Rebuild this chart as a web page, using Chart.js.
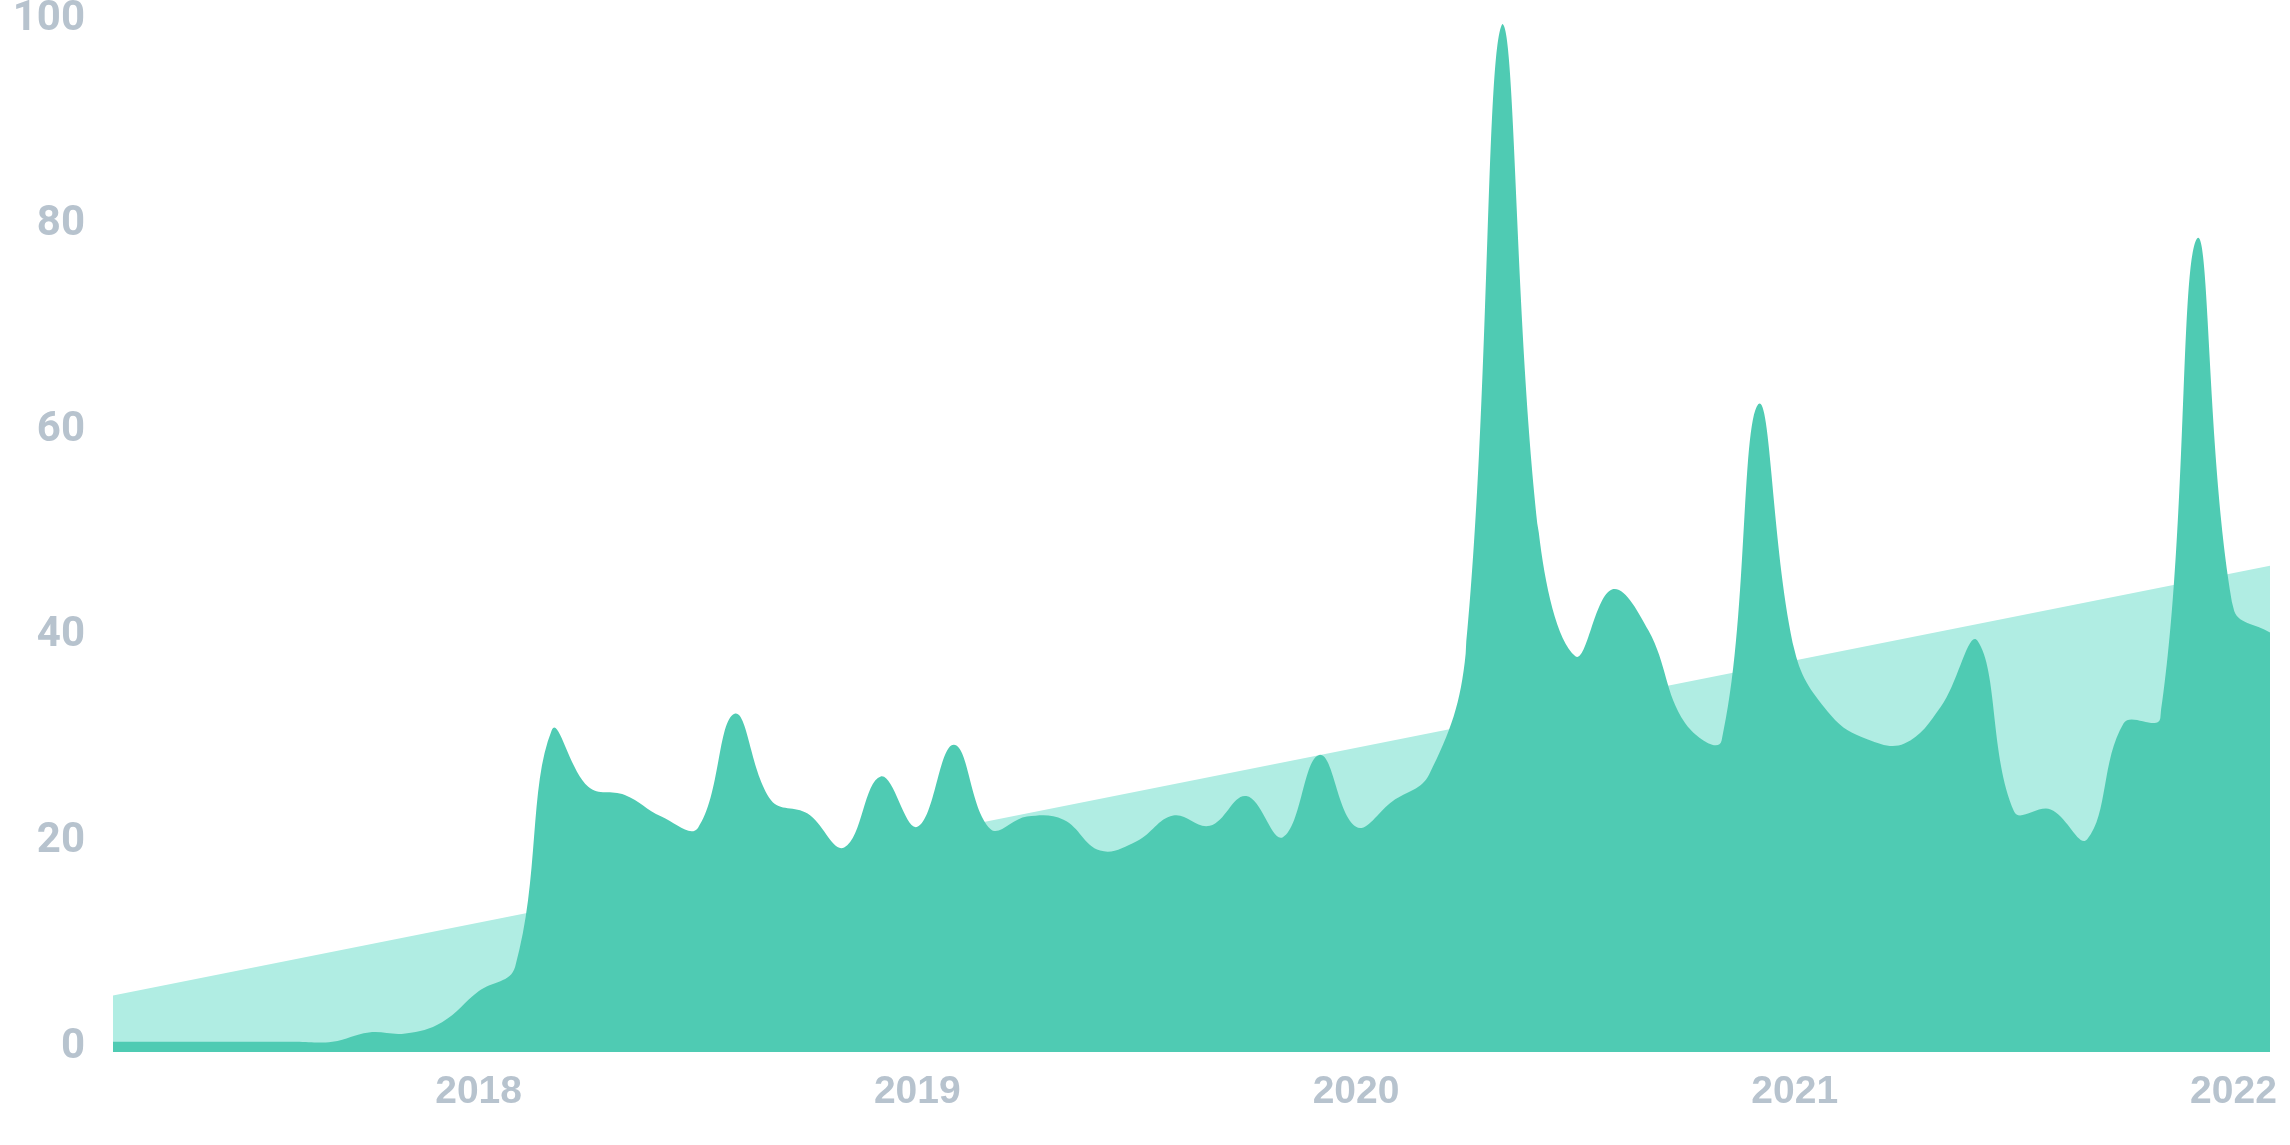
<!DOCTYPE html>
<html lang="en">
<head>
    <meta charset="UTF-8">
    <title>Interest over time</title>
    <script src="https://cdn.jsdelivr.net/npm/chart.js"></script>
    <style>
        body {
            margin: 0;
            padding: 0;
            background-color: #fff;
        }
        #chart {
            display: block;
        }
    </style>
</head>
<body>
    <canvas id="chart" width="2290" height="1145"></canvas>

    <script>
        // monthly points, Mar 2017 .. Feb 2022
        const months = [
            '2017-03', '2017-04', '2017-05', '2017-06', '2017-07', '2017-08', '2017-09', '2017-10', '2017-11', '2017-12',
            '2018-01', '2018-02', '2018-03', '2018-04', '2018-05', '2018-06', '2018-07', '2018-08', '2018-09', '2018-10', '2018-11', '2018-12',
            '2019-01', '2019-02', '2019-03', '2019-04', '2019-05', '2019-06', '2019-07', '2019-08', '2019-09', '2019-10', '2019-11', '2019-12',
            '2020-01', '2020-02', '2020-03', '2020-04', '2020-05', '2020-06', '2020-07', '2020-08', '2020-09', '2020-10', '2020-11', '2020-12',
            '2021-01', '2021-02', '2021-03', '2021-04', '2021-05', '2021-06', '2021-07', '2021-08', '2021-09', '2021-10', '2021-11', '2021-12',
            '2022-01', '2022-02'
        ];
        const interest = [
            1, 1, 1, 1, 1, 1, 1, 1.9, 1.8, 2.9,
            5.9, 8.3, 31.3, 25.8, 25.0, 22.9, 21.8, 32.9, 24.5, 23.2, 19.9, 26.8,
            21.9, 29.9, 21.7, 22.9, 22.6, 19.6, 20.5, 23.0, 22.0, 24.9, 20.9, 28.9,
            21.9, 24.4, 27.0, 38.8, 100, 50.5, 38.5, 45.0, 41.0, 32.0, 30.3, 63.0,
            39.0, 32.7, 30.4, 30.0, 33.6, 40.0, 23.4, 23.6, 20.7, 32.0, 32.5, 79.1,
            43.2, 40.8
        ];
        // trend line: only the two ends, the library joins them
        const trendStart = 5.5;
        const trendEnd = 47.3;
        const yTicks = [0, 20, 40, 60, 80, 100];

        const trend = months.map((m, i) => i === 0 ? trendStart : (i === months.length - 1 ? trendEnd : null));

        const labelColor = '#b7c3ce';

        new Chart(document.getElementById('chart').getContext('2d'), {
            type: 'line',
            data: {
                labels: months,
                datasets: [
                    {
                        label: 'Interest',
                        data: interest,
                        backgroundColor: '#4fcbb3',
                        borderWidth: 0,
                        pointRadius: 0,
                        fill: 'origin',
                        tension: 0.4
                    },
                    {
                        label: 'Trend',
                        data: trend,
                        backgroundColor: '#b0ede3',
                        borderWidth: 0,
                        pointRadius: 0,
                        fill: 'origin',
                        spanGaps: true,
                        tension: 0
                    }
                ]
            },
            options: {
                responsive: false,
                animation: false,
                layout: { padding: { top: 24, right: 20, left: 0, bottom: 0 } },
                plugins: { legend: { display: false }, tooltip: { enabled: false } },
                scales: {
                    x: {
                        offset: false,
                        grid: { display: false, drawTicks: false },
                        border: { display: false },
                        afterFit: (scale) => { scale.height = 93; scale.paddingLeft = 0; scale.paddingRight = 0; },
                        ticks: {
                            autoSkip: false,
                            maxRotation: 0,
                            padding: 17,
                            color: labelColor,
                            font: { family: '"Liberation Sans", Arial, sans-serif', size: 39, weight: 'bold' },
                            callback: function (value) {
                                const m = months[value];
                                return m.endsWith('-01') ? m.slice(0, 4) : null;
                            }
                        }
                    },
                    y: {
                        min: 0,
                        max: 100,
                        grid: { display: false, drawTicks: false },
                        border: { display: false },
                        afterFit: (scale) => { scale.width = 113; scale.paddingTop = 0; scale.paddingBottom = 0; },
                        afterBuildTicks: (scale) => { scale.ticks = yTicks.map(v => ({ value: v })); },
                        ticks: {
                            padding: 28,
                            labelOffset: -5,
                            color: labelColor,
                            font: { family: 'Roboto, sans-serif', size: 42, weight: 'bold' }
                        }
                    }
                }
            }
        });
    </script>
</body>
</html>
